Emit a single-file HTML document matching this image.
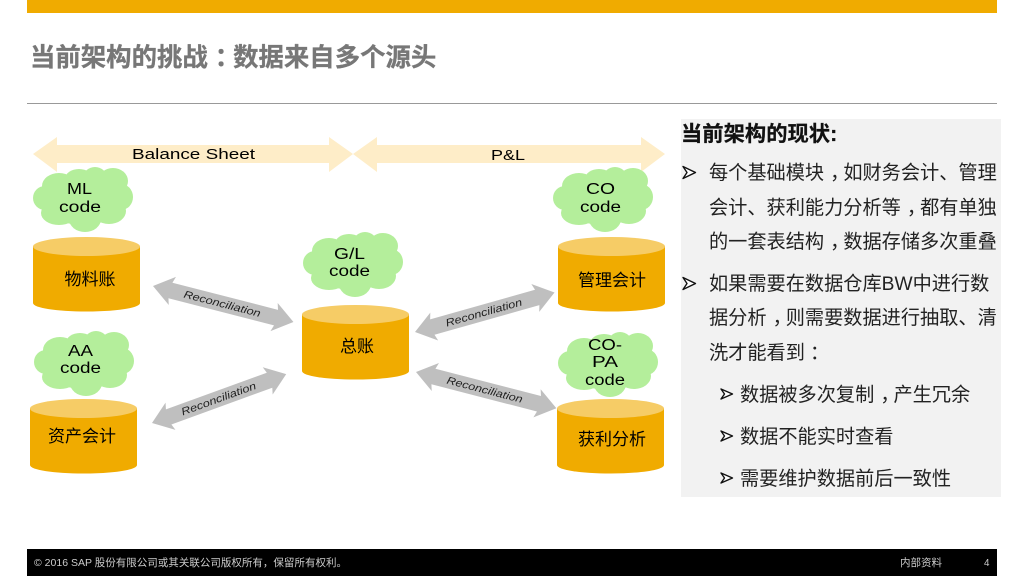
<!DOCTYPE html>
<html><head><meta charset="utf-8"><style>
html,body{margin:0;padding:0;background:#fff;width:1024px;height:576px;overflow:hidden}
svg{display:block}
text{font-family:"Liberation Sans","Noto Sans CJK SC",sans-serif;fill:#000}
.t{font-size:19.2px;fill:#222}
.c{font-size:15.5px}
.l{font-size:17px;text-anchor:middle}
.r{font-size:10.5px;font-style:italic;fill:#222}
.b{font-size:14.5px}
</style></head><body>
<svg width="1024" height="576" viewBox="0 0 1024 576" xmlns="http://www.w3.org/2000/svg">
<defs>
<g id="cloud" fill="#B4EE9B">
<ellipse cx="50" cy="32" rx="42" ry="26"/>
<ellipse cx="12" cy="31" rx="12" ry="12"/>
<ellipse cx="26" cy="19" rx="17" ry="13"/>
<ellipse cx="46" cy="12" rx="14" ry="10"/>
<ellipse cx="62" cy="11" rx="12" ry="11"/>
<ellipse cx="80" cy="14" rx="15" ry="13"/>
<ellipse cx="88" cy="30" rx="12" ry="13"/>
<ellipse cx="76" cy="44" rx="17" ry="13"/>
<ellipse cx="52" cy="52" rx="16" ry="13"/>
<ellipse cx="26" cy="46" rx="18" ry="12"/>
</g>
<g id="cyl">
<path d="M0 9V66C0 71 24 74.500 53.500 74.500S107 71 107 66V9Z" fill="#F0AB00"/>
<ellipse cx="53.500" cy="9.500" rx="53.500" ry="9.500" fill="#F6CC66"/>
</g>
<polygon id="ra" points="0,0 20,-14.500 18,-8 127,-8 125,-14.500 145,0 125,14.500 127,8 18,8 20,14.500" fill="#BFBFBF"/>
</defs>

<rect x="27" y="0" width="970" height="13" fill="#F0AB00"/>
<text x="30" y="66" style="font-size:25.4px;font-weight:bold;fill:#777;stroke:#777;stroke-width:.3">当前架构的挑战<tspan dx="7">：</tspan><tspan dx="-7">数据来自多个源头</tspan></text>
<rect x="27" y="103" width="970" height="1" fill="#999"/>

<!-- top arrows -->
<polygon points="33,154 57,137 57,145 329,145 329,137 353,154 329,172 329,163 57,163 57,172" fill="#FEEDC8"/>
<polygon points="353,154 377,137 377,145 641,145 641,137 665,154 641,172 641,163 377,163 377,172" fill="#FEEDC8"/>
<text class="b" x="132" y="159" textLength="123" lengthAdjust="spacingAndGlyphs">Balance Sheet</text>
<text class="b" x="491" y="160" textLength="34" lengthAdjust="spacingAndGlyphs">P&amp;L</text>

<!-- clouds -->
<use href="#cloud" x="33" y="167"/>
<use href="#cloud" x="553" y="167"/>
<use href="#cloud" x="303" y="232"/>
<use href="#cloud" x="34" y="331"/>
<use href="#cloud" x="558" y="332"/>

<text class="c" x="67" y="194" textLength="25" lengthAdjust="spacingAndGlyphs">ML</text><text class="c" x="59" y="212" textLength="42" lengthAdjust="spacingAndGlyphs">code</text>
<text class="c" x="586" y="194" textLength="29" lengthAdjust="spacingAndGlyphs">CO</text><text class="c" x="580" y="212" textLength="41" lengthAdjust="spacingAndGlyphs">code</text>
<text class="c" x="334" y="259" textLength="31" lengthAdjust="spacingAndGlyphs">G/L</text><text class="c" x="329" y="276" textLength="41" lengthAdjust="spacingAndGlyphs">code</text>
<text class="c" x="68" y="356" textLength="25" lengthAdjust="spacingAndGlyphs">AA</text><text class="c" x="60" y="373" textLength="41" lengthAdjust="spacingAndGlyphs">code</text>
<text class="c" x="588" y="350" textLength="34" lengthAdjust="spacingAndGlyphs">CO-</text><text class="c" x="592" y="367" textLength="26" lengthAdjust="spacingAndGlyphs">PA</text><text class="c" x="585" y="385" textLength="40" lengthAdjust="spacingAndGlyphs">code</text>

<!-- cylinders -->
<use href="#cyl" x="33" y="237"/>
<use href="#cyl" x="558" y="237"/>
<use href="#cyl" x="302" y="305"/>
<use href="#cyl" x="30" y="399"/>
<use href="#cyl" x="557" y="399"/>
<text class="l" x="90" y="285">物料账</text>
<text class="l" x="612" y="286">管理会计</text>
<text class="l" x="357" y="352">总账</text>
<text class="l" x="82" y="442">资产会计</text>
<text class="l" x="612" y="445">获利分析</text>

<!-- reconciliation arrows -->
<g transform="translate(153,286) rotate(14.4)"><use href="#ra"/><text class="r" x="32" y="3.500" textLength="79" lengthAdjust="spacingAndGlyphs">Reconciliation</text></g>
<g transform="translate(152,423) rotate(-20) scale(.985,1)"><use href="#ra"/><text class="r" x="32" y="3.500" textLength="80" lengthAdjust="spacingAndGlyphs">Reconciliation</text></g>
<g transform="translate(415,332) rotate(-15.800)"><use href="#ra"/><text class="r" x="32" y="3.500" textLength="79" lengthAdjust="spacingAndGlyphs">Reconciliation</text></g>
<g transform="translate(416,372) rotate(14.500)"><use href="#ra"/><text class="r" x="32" y="3.500" textLength="78" lengthAdjust="spacingAndGlyphs">Reconciliation</text></g>

<!-- right panel -->
<rect x="681" y="119" width="320" height="378" fill="#F2F2F2"/>
<text x="681" y="141" style="font-size:21.3px;font-weight:bold;fill:#111;stroke:#111;stroke-width:.25">当前架构的现状:</text>
<g fill="#fff" stroke="#111" stroke-width="1.400" stroke-linejoin="round">
<path d="M683 166.500l12.500 6-12.500 6 4-6z"/>
<path d="M683 277.500l12.500 6-12.500 6 4-6z"/>
<path d="M721 389l11.500 5-11.500 5 3.500-5z"/>
<path d="M721 431l11.500 5-11.500 5 3.500-5z"/>
<path d="M721 473l11.500 5-11.500 5 3.500-5z"/>
</g>
<text class="t" x="709" y="179">每个基础模块<tspan dx="6">，</tspan><tspan dx="-6">如财务会计、管理</tspan></text>
<text class="t" x="709" y="214">会计、获利能力分析等<tspan dx="6">，</tspan><tspan dx="-6">都有单独</tspan></text>
<text class="t" x="709" y="248">的一套表结构<tspan dx="6">，</tspan><tspan dx="-6">数据存储多次重叠</tspan></text>
<text class="t" x="709" y="290">如果需要在数据仓库BW中进行数</text>
<text class="t" x="709" y="324">据分析<tspan dx="6">，</tspan><tspan dx="-6">则需要数据进行抽取、清</tspan></text>
<text class="t" x="709" y="359">洗才能看到<tspan dx="5">：</tspan></text>
<text class="t" x="740" y="401">数据被多次复制<tspan dx="6">，</tspan><tspan dx="-6">产生冗余</tspan></text>
<text class="t" x="740" y="443">数据不能实时查看</text>
<text class="t" x="740" y="485">需要维护数据前后一致性</text>

<!-- footer -->
<rect x="27" y="549" width="970" height="27" fill="#000"/>
<text x="34" y="566" textLength="313" lengthAdjust="spacingAndGlyphs" style="font-size:10.500px;fill:#ccc">© 2016 SAP 股份有限公司或其关联公司版权所有，保留所有权利。</text>
<text x="900" y="566" style="font-size:10.500px;fill:#ccc">内部资料</text>
<text x="984" y="566" style="font-size:9.800px;fill:#ccc">4</text>
</svg>
</body></html>
